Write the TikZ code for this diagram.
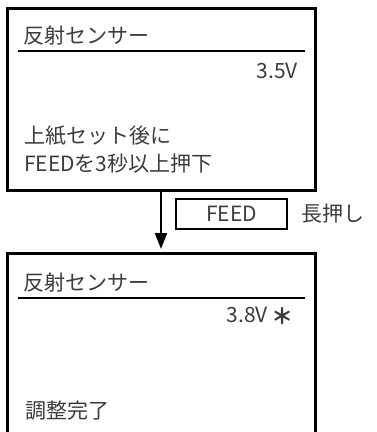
\documentclass[tikz,border=0pt]{standalone}
\usepackage{fontspec}
\setmainfont{Noto Sans CJK JP}
\usetikzlibrary{arrows.meta}
\definecolor{txt}{HTML}{3C3C3C}
\tikzset{
  panel/.style={line width=3pt, draw=black},
  rule/.style={line width=2.2pt},
  lbl/.style={inner sep=0pt, text=txt, font=\fontsize{21}{25}\selectfont},
  keybox/.style={draw, line width=2.8pt, minimum width=111pt, minimum height=30pt, inner sep=0pt, text=txt, font=\fontsize{21}{25}\selectfont},
  flow/.style={line width=2pt, -{Triangle[length=16pt,width=12pt]}}
}
\begin{document}
\begin{tikzpicture}[x=1pt,y=-1pt]
\useasboundingbox (0,0) rectangle (377,432);
\clip (0,0) rectangle (377,432);
% panel 1
\node[panel, minimum width=308pt, minimum height=182pt, inner sep=0pt] (p1) at (161,99) {};
\draw[rule] (18,51) coordinate (u1a) -- (305,51) coordinate (u1b);
\node[lbl, anchor=west] (t1) at (23,36) {反射センサー};
\node[lbl, anchor=east] (v1) at (298,71) {3.5V};
\node[lbl, anchor=west] (m1) at (24,136) {上紙セット後に};
\node[lbl, anchor=west] (m2) at (24,164) {FEEDを3秒以上押下};
% panel 2 (bottom cut off)
\coordinate (p2bl) at (7,445);
\coordinate (p2tl) at (7,253);
\coordinate (p2tr) at (315,253);
\coordinate (p2br) at (315,445);
\draw[panel] (p2bl) -- (p2tl) -- (p2tr) -- (p2br);
\draw[rule] (18,298) coordinate (u2a) -- (305,298) coordinate (u2b);
\node[lbl, anchor=west] (t2) at (23,283) {反射センサー};
\node[lbl, anchor=east] (v2) at (268,315) {3.8V};
\node[lbl, anchor=west, font=\fontsize{22}{24}\selectfont\bfseries] (ast) at (271,316) {＊};
\node[lbl, anchor=west] (m3) at (25,411) {調整完了};
% arrow and key
\coordinate (a0) at (161,190);
\coordinate (a1) at (161,249);
\draw[flow] (a0) -- (a1);
\node[keybox] (feed) at (231.5,214) {FEED};
\node[lbl] (long) at (333,214) {長押し};
\end{tikzpicture}
\end{document}
